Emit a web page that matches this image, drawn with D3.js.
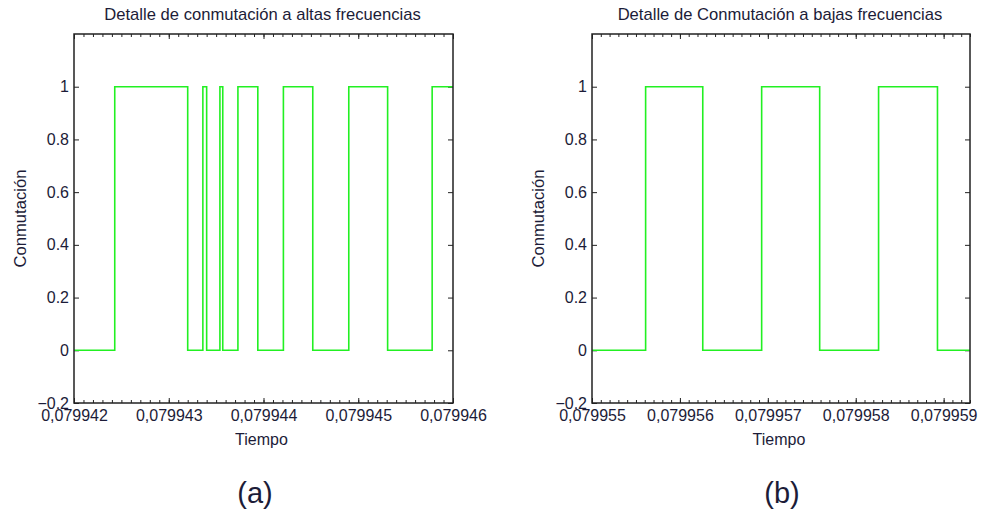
<!DOCTYPE html>
<html>
<head>
<meta charset="utf-8">
<script src="https://cdn.jsdelivr.net/npm/d3@7"></script>
<style>
  html, body { margin: 0; padding: 0; background: #fff; }
  svg { display: block; }
  text { font-family: "Liberation Sans", Arial, sans-serif; fill: #1c1c38; }
</style>
</head>
<body>
<svg id="chart" width="981" height="514"></svg>
<script>
// Switching signal, high-frequency detail: switching instants (s) and state after each instant
const timesHigh = [0.079942, 0.07994243, 0.0799432, 0.07994336, 0.0799434, 0.07994354,
  0.07994357, 0.07994373, 0.07994394, 0.07994421, 0.07994452, 0.0799449,
  0.07994531, 0.07994578, 0.079946];
const statesHigh = [0, 1, 0, 1, 0, 1, 0, 1, 0, 1, 0, 1, 0, 1, 1];

// Switching signal, low-frequency detail
const timesLow = [0.079955, 0.07995561, 0.07995626, 0.07995693, 0.07995759,
  0.07995826, 0.07995893, 0.0799593];
const statesLow = [0, 1, 0, 1, 0, 1, 0, 0];

// Axis ticks
const xTicksHigh = [0.079942, 0.079943, 0.079944, 0.079945, 0.079946];
const xTicksLow = [0.079955, 0.079956, 0.079957, 0.079958, 0.079959];
const yTicks = [-0.2, 0, 0.2, 0.4, 0.6, 0.8, 1];
const yDomain = [-0.2, 1.2];

const titles = ["Detalle de conmutación a altas frecuencias", "Detalle de Conmutación a bajas frecuencias"];
const panelTags = ["(a)", "(b)"];
const xLabel = "Tiempo";
const yLabel = "Conmutación";

const locale = d3.formatLocale({ decimal: ",", thousands: ".", grouping: [3], currency: ["", ""] });
const fmtX = locale.format(".6f");
const fmtY = v => (Math.abs(v) < 1e-9 ? "0" : d3.format("")(+v.toFixed(1)));

const svg = d3.select("#chart");
svg.append("rect").attr("width", 981).attr("height", 514).attr("fill", "#fff");

function panel(cfg) {
  const { left, right, top, bottom, times, states, xDomain, xTicks, title, tag, ylabX } = cfg;
  const x = d3.scaleLinear().domain(xDomain).range([left, right]);
  const y = d3.scaleLinear().domain(yDomain).range([bottom, top]);
  const g = svg.append("g");

  // minor ticks every 1e-7 on top and bottom edges
  const step = 1e-7;
  const n0 = Math.ceil(xDomain[0] / step - 1e-6), n1 = Math.floor(xDomain[1] / step + 1e-6);
  const minor = d3.range(n0, n1 + 1).map(i => i * step);

  const axB = g.append("g").attr("transform", `translate(0,${bottom})`)
    .call(d3.axisBottom(x).tickValues(minor).tickSize(-3).tickFormat(""));
  const axT = g.append("g").attr("transform", `translate(0,${top})`)
    .call(d3.axisTop(x).tickValues(minor).tickSize(-3).tickFormat(""));
  const axBM = g.append("g").attr("transform", `translate(0,${bottom})`)
    .call(d3.axisBottom(x).tickValues(xTicks).tickSize(-5).tickPadding(7).tickFormat(fmtX));
  const axTM = g.append("g").attr("transform", `translate(0,${top})`)
    .call(d3.axisTop(x).tickValues(xTicks).tickSize(-5).tickFormat(""));
  const axL = g.append("g").attr("transform", `translate(${left},0)`)
    .call(d3.axisLeft(y).tickValues(yTicks).tickSize(-5).tickPadding(5).tickFormat(fmtY));
  const axR = g.append("g").attr("transform", `translate(${right},0)`)
    .call(d3.axisRight(y).tickValues(yTicks).tickSize(-5).tickFormat(""));

  [axB, axT, axBM, axTM, axL, axR].forEach(a => {
    a.select(".domain").remove();
    a.selectAll("line").attr("stroke", "#222").attr("stroke-width", 1);
    a.selectAll("text").attr("font-size", 16).attr("fill", "#1c1c38")
      .attr("font-family", "'Liberation Sans', Arial, sans-serif");
  });

  // switching waveform
  const data = times.map((t, i) => ({ t, s: states[i] }));
  g.append("path").datum(data)
    .attr("fill", "none").attr("stroke", "#22f022").attr("stroke-width", 1.6)
    .attr("d", d3.line().x(d => x(d.t)).y(d => y(d.s)).curve(d3.curveStepAfter));

  // axes frame
  g.append("rect").attr("x", left).attr("y", top)
    .attr("width", right - left).attr("height", bottom - top)
    .attr("fill", "none").attr("stroke", "#222").attr("stroke-width", 1.5);

  const cx = (left + right) / 2;
  g.append("text").attr("x", cx - 1).attr("y", 20).attr("text-anchor", "middle")
    .attr("font-size", 16.6).text(title);
  g.append("text").attr("x", cx - 2).attr("y", 445).attr("text-anchor", "middle")
    .attr("font-size", 16).text(xLabel);
  g.append("text").attr("transform", `translate(${ylabX},${(top + bottom) / 2}) rotate(-90)`)
    .attr("text-anchor", "middle").attr("font-size", 16.6).text(yLabel);
  g.append("text").attr("x", cfg.tagX).attr("y", 503).attr("text-anchor", "middle")
    .attr("font-size", 29).attr("fill", "#000").text(tag);
}

panel({ left: 74, right: 453, top: 34, bottom: 403, times: timesHigh, states: statesHigh,
  xDomain: [0.079942, 0.079946], xTicks: xTicksHigh, title: titles[0], tag: panelTags[0],
  ylabX: 26, tagX: 255 });
panel({ left: 592, right: 970, top: 34, bottom: 403, times: timesLow, states: statesLow,
  xDomain: [0.079955, 0.0799593], xTicks: xTicksLow, title: titles[1], tag: panelTags[1],
  ylabX: 544, tagX: 782 });
</script>
</body>
</html>
